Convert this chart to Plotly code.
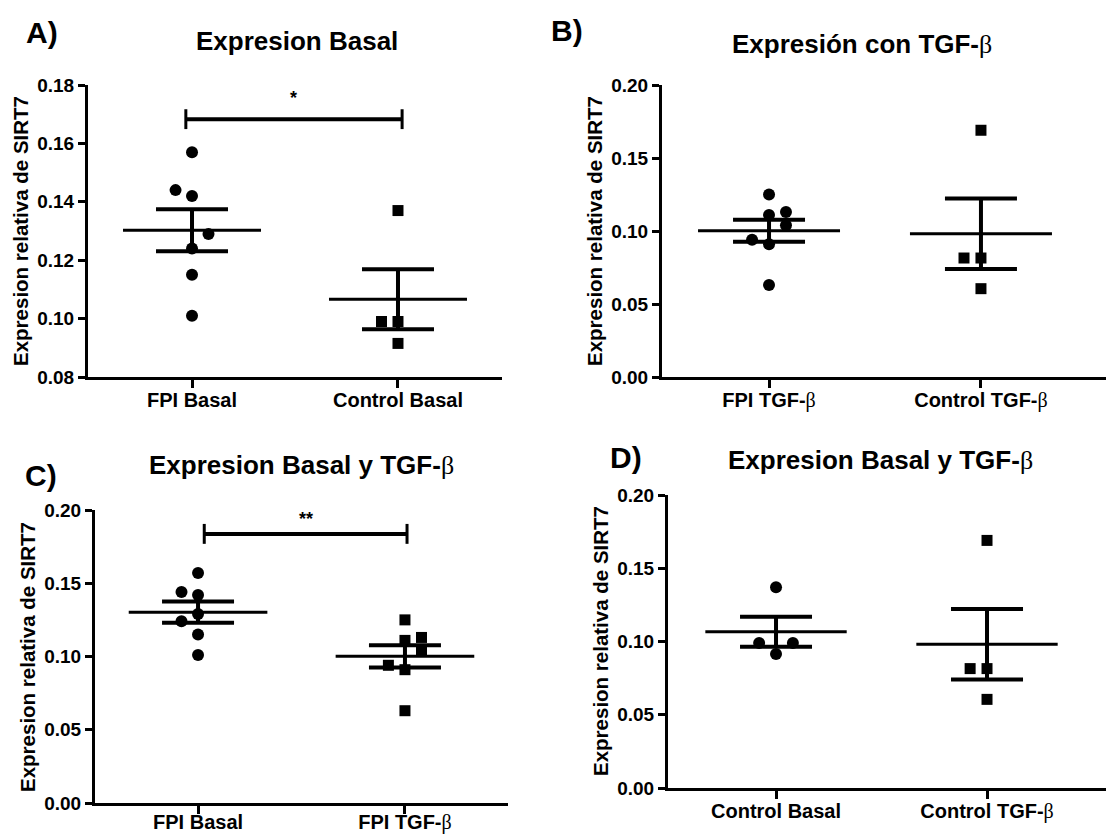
import numpy as np
import plotly.graph_objects as go

# ---------------- data ----------------
fpi_basal = [0.157, 0.144, 0.142, 0.129, 0.124, 0.115, 0.101]
control_basal = [0.137, 0.099, 0.099, 0.0915]
fpi_tgf = [0.125, 0.113, 0.111, 0.104, 0.094, 0.091, 0.063]
control_tgf = [0.169, 0.0815, 0.0815, 0.0605]

BETA = '<span style="font-family:Liberation Serif;font-weight:normal">β</span>'
lab_fpi_basal = "FPI Basal"
lab_control_basal = "Control Basal"
lab_fpi_tgf = "FPI TGF-" + BETA
lab_control_tgf = "Control TGF-" + BETA

panel_titles = ["Expresion Basal", "Expresión con TGF-" + BETA,
                "Expresion Basal y TGF-" + BETA, "Expresion Basal y TGF-" + BETA]
panel_letters = ["A)", "B)", "C)", "D)"]
y_title = "Expresion relativa de SIRT7"
sig_labels = ["*", "**"]

# ---------------- layout helpers (pixels -> paper) ----------------
W, H = 1106, 835
def fx(p): return p / W
def fy(p): return 1 - p / H

JIT = 0.08  # horizontal spread of overlapping points (category units)
FONT = "Liberation Sans, Arial, sans-serif"

panels = [
    dict(groups=[fpi_basal, control_basal], labels=[lab_fpi_basal, lab_control_basal],
         symbols=["circle", "square"],
         jit=[[0, -1, 0, 1, 0, 0, 0], [0, -1, 0, 0]], so=-5,
         xd=(88, 502), yd=(85, 377), xr=(-0.505, 1.505), yr=(0.08, 0.18), dt=0.02),
    dict(groups=[fpi_tgf, control_tgf], labels=[lab_fpi_tgf, lab_control_tgf],
         symbols=["circle", "square"],
         jit=[[0, 1, 0, 1, -1, 0, 0], [0, -1, 0, 0]], so=-5,
         xd=(662, 1106), yd=(85, 377), xr=(-0.505, 1.59), yr=(0.0, 0.20), dt=0.05),
    dict(groups=[fpi_basal, fpi_tgf], labels=[lab_fpi_basal, lab_fpi_tgf],
         symbols=["circle", "square"],
         jit=[[0, -1, 0, 0, -1, 0, 0], [0, 1, 0, 1, -1, 0, 0]], so=-9,
         xd=(95, 508), yd=(510, 803), xr=(-0.498, 1.498), yr=(0.0, 0.20), dt=0.05),
    dict(groups=[control_basal, control_tgf], labels=[lab_control_basal, lab_control_tgf],
         symbols=["circle", "square"],
         jit=[[0, -1, 1, 0], [0, -1, 0, 0]], so=-5,
         xd=(668, 1106), yd=(495, 788), xr=(-0.512, 1.564), yr=(0.0, 0.20), dt=0.05),
]

fig = go.Figure()
layout = dict(template="none", width=W, height=H, margin=dict(l=0, r=0, t=0, b=0, pad=0),
              autosize=False,
              paper_bgcolor="white", plot_bgcolor="white", showlegend=False,
              font=dict(family=FONT, color="black"))
annotations = []
shapes = []

for i, p in enumerate(panels):
    n = i + 1
    xa = "x" if n == 1 else f"x{n}"
    ya = "y" if n == 1 else f"y{n}"
    xkey = "xaxis" if n == 1 else f"xaxis{n}"
    ykey = "yaxis" if n == 1 else f"yaxis{n}"
    for g, (vals, sym, jit) in enumerate(zip(p["groups"], p["symbols"], p["jit"])):
        xs = [g + JIT * j for j in jit]
        fig.add_trace(go.Scatter(x=xs, y=vals, mode="markers", xaxis=xa, yaxis=ya,
                                 marker=dict(symbol=sym, size=12 if sym == "circle" else 11,
                                             color="black", line=dict(width=0)),
                                 hoverinfo="y"))
        arr = np.array(vals)
        mean = arr.mean()
        sem = arr.std(ddof=1) / np.sqrt(len(arr))
        fig.add_trace(go.Scatter(x=[g], y=[mean], mode="markers", xaxis=xa, yaxis=ya,
                                 marker=dict(size=1, color="rgba(0,0,0,0)"),
                                 error_x=dict(type="constant", value=0.335, width=0,
                                              thickness=3, color="black"),
                                 error_y=dict(type="data", array=[sem], symmetric=True,
                                              width=36, thickness=4, color="black"),
                                 hoverinfo="y"))
    layout[xkey] = dict(domain=[fx(p["xd"][0]), fx(p["xd"][1])], range=list(p["xr"]),
                        anchor=ya, tickmode="array", tickvals=[0, 1], ticktext=p["labels"],
                        showline=True, linewidth=3, linecolor="black", ticks="outside",
                        ticklen=8, tickwidth=3, tickcolor="black", showgrid=False,
                        zeroline=False, fixedrange=True, automargin=False,
                        ticklabelstandoff=p["so"],
                        tickfont=dict(family=FONT, size=20, color="black", weight="bold"))
    layout[ykey] = dict(domain=[fy(p["yd"][1]), fy(p["yd"][0])], range=list(p["yr"]),
                        anchor=xa, dtick=p["dt"], tick0=0, tickformat=".2f",
                        showline=True, linewidth=3, linecolor="black", ticks="outside",
                        ticklen=7, tickwidth=3, tickcolor="black", showgrid=False,
                        zeroline=False, fixedrange=True, automargin=False,
                        tickfont=dict(family=FONT, size=19, color="black", weight="bold"))

title_pos = [(297, 41), (862, 44), (301, 465), (880, 460)]
letter_pos = [(42, 32), (567, 31), (41, 475), (626, 458)]
ytitle_pos = [(21, 231), (595, 231), (27, 657), (600, 641)]
for k in range(4):
    annotations.append(dict(text="<b>" + panel_titles[k] + "</b>", x=fx(title_pos[k][0]),
                            y=fy(title_pos[k][1]), xref="paper", yref="paper",
                            showarrow=False, xanchor="center", yanchor="middle",
                            font=dict(family=FONT, size=26, color="black")))
    annotations.append(dict(text="<b>" + panel_letters[k] + "</b>", x=fx(letter_pos[k][0]),
                            y=fy(letter_pos[k][1]), xref="paper", yref="paper",
                            showarrow=False, xanchor="center", yanchor="middle",
                            font=dict(family=FONT, size=30, color="black")))
    annotations.append(dict(text="<b>" + y_title + "</b>", x=fx(ytitle_pos[k][0]),
                            y=fy(ytitle_pos[k][1]), xref="paper", yref="paper",
                            showarrow=False, xanchor="center", yanchor="middle",
                            textangle=-90,
                            font=dict(family=FONT, size=20.5, color="black")))

sig = [dict(xa="x", ya="y", y=0.1683, x0=-0.03, x1=1.02, star=sig_labels[0], sy=0.1755, dy=0.0034),
       dict(xa="x3", ya="y3", y=0.1837, x0=0.03, x1=1.01, star=sig_labels[1], sy=0.194, dy=0.0068)]
for s in sig:
    shapes.append(dict(type="line", xref=s["xa"], yref=s["ya"], x0=s["x0"], x1=s["x1"],
                       y0=s["y"], y1=s["y"], line=dict(color="black", width=4)))
    for xx in (s["x0"], s["x1"]):
        shapes.append(dict(type="line", xref=s["xa"], yref=s["ya"], x0=xx, x1=xx,
                           y0=s["y"] - s["dy"], y1=s["y"] + s["dy"],
                           line=dict(color="black", width=3)))
    annotations.append(dict(text="<b>" + s["star"] + "</b>", x=(s["x0"] + s["x1"]) / 2,
                            y=s["sy"], xref=s["xa"], yref=s["ya"], showarrow=False,
                            xanchor="center", yanchor="middle",
                            font=dict(family=FONT, size=18, color="black")))

layout["annotations"] = annotations
layout["shapes"] = shapes
fig.update_layout(**layout)
fig.write_html("out.html", config={"displayModeBar": False},
               post_script="document.body.style.margin='0';document.body.style.padding='0';")
